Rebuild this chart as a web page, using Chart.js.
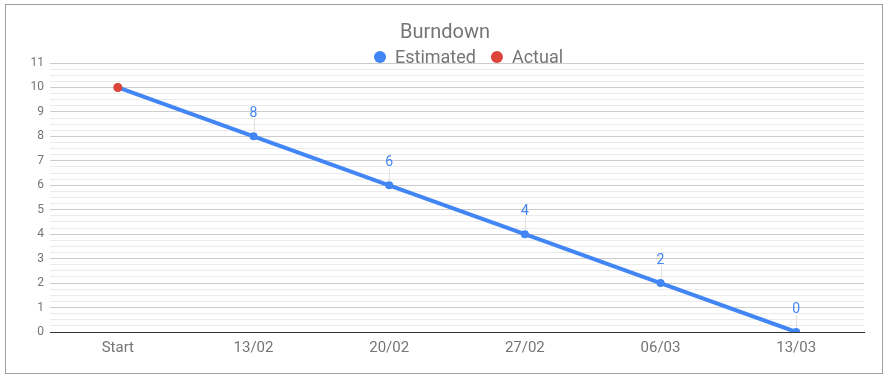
<!DOCTYPE html>
<html>
<head>
<meta charset="utf-8">
<script src="https://cdn.jsdelivr.net/npm/chart.js@4"></script>
<style>
html,body{margin:0;padding:0;background:#fff;}
#wrap{position:relative;width:891px;height:379px;}
</style>
</head>
<body>
<div id="wrap"><canvas id="c" width="891" height="379"></canvas></div>
<script>
const chartTitle = "Burndown";
const categories = ["Start", "13/02", "20/02", "27/02", "06/03", "13/03"];
const estimated = [10, 8, 6, 4, 2, 0];
const actual = [10, null, null, null, null, null];
const annotations = ["", "8", "6", "4", "2", "0"];
const seriesNames = ["Estimated", "Actual"];
const seriesColors = ["#4285f4", "#db4437"];
const yMin = 0, yMax = 11, yMinorStep = 0.25;

const FONT = "Roboto, 'Noto Sans', Arial, sans-serif";

const framePlugin = {
  id: 'frame',
  beforeDraw(chart) {
    const c = chart.ctx;
    c.save();
    c.fillStyle = '#fff';
    c.fillRect(0, 0, chart.width, chart.height);
    c.strokeStyle = '#9e9e9e';
    c.lineWidth = 1;
    c.strokeRect(5.5, 4.5, 877, 369);
    c.restore();
  }
};

const headerPlugin = {
  id: 'header',
  afterDraw(chart) {
    const c = chart.ctx;
    c.save();
    c.fillStyle = '#757575';
    c.textBaseline = 'middle';
    c.textAlign = 'center';
    c.font = "20px " + FONT;
    c.fillText(chartTitle, 445, 33);
    // legend
    c.font = "18px " + FONT;
    c.textAlign = 'left';
    let x = 374;
    const y = 57;
    seriesNames.forEach((name, i) => {
      const w = c.measureText(name).width;
      c.fillStyle = seriesColors[i];
      c.beginPath();
      c.arc(x + 6, y, 6, 0, Math.PI * 2);
      c.fill();
      c.fillStyle = '#757575';
      c.fillText(name, x + 21, y + 1);
      x += 21 + w + 15;
    });
    c.restore();
  }
};

const annotationPlugin = {
  id: 'annot',
  afterDatasetsDraw(chart) {
    const meta = chart.getDatasetMeta(0);
    const c = chart.ctx;
    c.save();
    c.font = "14px " + FONT;
    c.textAlign = 'center';
    c.textBaseline = 'middle';
    meta.data.forEach((pt, i) => {
      const t = annotations[i];
      if (!t) return;
      c.strokeStyle = '#e0e0e0';
      c.lineWidth = 1;
      c.beginPath();
      c.moveTo(Math.round(pt.x) + 0.5, pt.y - 17);
      c.lineTo(Math.round(pt.x) + 0.5, pt.y - 4);
      c.stroke();
      c.fillStyle = seriesColors[0];
      c.fillText(t, pt.x, pt.y - 23);
    });
    c.restore();
  }
};

function isInt(v) { return Math.abs(v - Math.round(v)) < 1e-6; }

new Chart(document.getElementById('c'), {
  type: 'line',
  data: {
    labels: categories,
    datasets: [
      {
        label: seriesNames[0],
        data: estimated,
        borderColor: seriesColors[0],
        backgroundColor: seriesColors[0],
        borderWidth: 4,
        pointRadius: 4,
        pointHoverRadius: 4,
        pointBorderWidth: 0,
        tension: 0,
        order: 2
      },
      {
        label: seriesNames[1],
        data: actual,
        borderColor: seriesColors[1],
        backgroundColor: seriesColors[1],
        borderWidth: 4,
        pointRadius: 4.5,
        pointHoverRadius: 4.5,
        pointBorderWidth: 0,
        order: 1
      }
    ]
  },
  options: {
    responsive: false,
    animation: false,
    layout: { padding: { top: 63, right: 27, left: 0, bottom: 0 } },
    plugins: {
      legend: { display: false },
      title: { display: false },
      tooltip: { enabled: false }
    },
    scales: {
      x: {
        offset: true,
        grid: { display: false, drawTicks: false },
        border: { display: true, color: '#333333', width: 1 },
        ticks: { color: '#757575', font: { family: FONT, size: 15 }, padding: 7, maxRotation: 0 },
        afterFit(scale) { scale.height = 47; }
      },
      y: {
        min: yMin,
        max: yMax,
        border: { display: false },
        grid: {
          drawTicks: false,
          color: (ctx) => {
            const v = ctx.tick ? ctx.tick.value : 0;
            if (Math.abs(v) < 1e-6) return '#333333';
            return isInt(v) ? '#cccccc' : '#ebebeb';
          },
          lineWidth: 1
        },
        ticks: {
          stepSize: yMinorStep,
          autoSkip: false,
          color: '#757575',
          font: { family: FONT, size: 12 },
          padding: 6,
          callback: (v) => isInt(v) ? String(Math.round(v)) : ''
        },
        afterFit(scale) { scale.width = 50; }
      }
    }
  },
  plugins: [framePlugin, headerPlugin, annotationPlugin]
});
</script>
</body>
</html>
